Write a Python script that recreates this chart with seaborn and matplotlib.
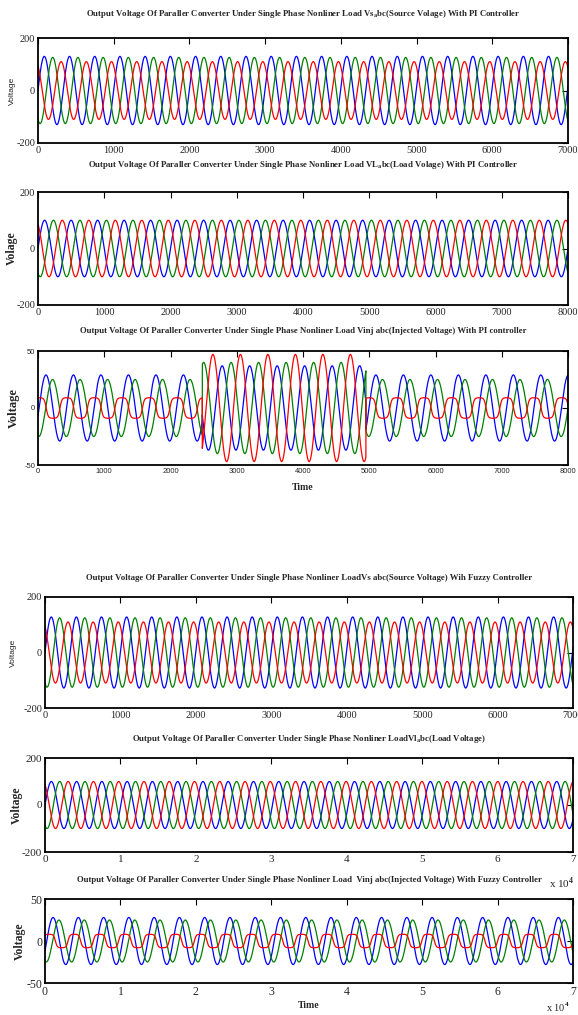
import numpy as np
import pandas as pd
import matplotlib
matplotlib.use("Agg")
import matplotlib.pyplot as plt
import seaborn as sns

# ---- values ----
phase_names = ["a", "b", "c"]
phase_colors = ["#0000ff", "#008000", "#ff0000"]

# 1) source voltage, PI controller
vs_pi_edges = [0, 7000]
vs_pi_period = 333
vs_pi_amp = [[130, 126, 110]]
vs_pi_peak = [[83, 194, 305]]
vs_pi_flat = [[0, 0, 0]]

# 2) load voltage, PI controller
vl_pi_edges = [0, 8000]
vl_pi_period = 400
vl_pi_amp = [[100, 100, 100]]
vl_pi_peak = [[100, 233, 367]]
vl_pi_flat = [[0, 0, 0]]

# 3) injected voltage, PI controller (compensation between 2480 and 4950)
vinj_pi_edges = [0, 2480, 4950, 8000]
vinj_pi_period = 415
vinj_pi_amp = [[29, 25, 9], [37, 40, 47], [29, 25, 9]]
vinj_pi_peak = [[120, 220, 20], [2780, 2500, 2640], [120, 220, 20]]
vinj_pi_flat = [[0, 0, 2.2], [0, 0, 0], [0, 0, 2.2]]

# 4) source voltage, fuzzy controller
vs_fz_edges = [0, 7000]
vs_fz_period = 333
vs_fz_amp = [[128, 125, 110]]
vs_fz_peak = [[83, 194, 305]]
vs_fz_flat = [[0, 0, 0]]

# 5) load voltage, fuzzy controller
vl_fz_edges = [0, 70000]
vl_fz_period = 3350
vl_fz_amp = [[100, 100, 100]]
vl_fz_peak = [[840, 1950, 3070]]
vl_fz_flat = [[0, 0, 0]]

# 6) injected voltage, fuzzy controller
vinj_fz_edges = [0, 70000]
vinj_fz_period = 3350
vinj_fz_amp = [[28, 25, 8]]
vinj_fz_peak = [[1070, 1850, 540]]
vinj_fz_flat = [[0, 0, 2.2]]

titles = [
    r"Output Voltage Of Paraller Converter Under Single Phase Nonliner Load Vs$_{\mathregular{a}}$bc(Source Volage) With PI Controller",
    r"Output Voltage Of Paraller Converter Under Single Phase Nonliner Load VL$_{\mathregular{a}}$bc(Load Volage) With PI Controller",
    "Output Voltage Of Paraller Converter Under Single Phase Nonliner Load Vinj abc(Injected Voltage) With PI controller",
    "Output Voltage Of Paraller Converter Under Single Phase Nonliner LoadVs abc(Source Voltage) Wih Fuzzy Controller",
    r"Output Voltage Of Paraller Converter Under Single Phase Nonliner LoadVl$_{\mathregular{a}}$bc(Load Voltage)",
    "Output Voltage Of Paraller Converter Under Single Phase Nonliner Load  Vinj abc(Injected Voltage) With Fuzzy Controller",
]
ylabels = ["Voltage", "Volage", "Voltage", "Voltage", "Voltage", "Voltage"]


def make_frame(edges, period, amps, peaks, flats, step):
    t = np.arange(edges[0], edges[-1] + step, step, dtype=float)
    seg = np.clip(np.searchsorted(edges, t, side="right") - 1, 0, len(edges) - 2)
    parts = []
    for k, name in enumerate(phase_names):
        a = np.array([s[k] for s in amps])[seg]
        p = np.array([s[k] for s in peaks])[seg]
        f = np.array([s[k] for s in flats])[seg]
        c = np.cos(2 * np.pi * (t - p) / period)
        shaped = np.where(f > 0, np.tanh(f * c) / np.tanh(np.maximum(f, 1e-6)), c)
        parts.append(pd.DataFrame({"t": t, "v": a * shaped, "phase": name}))
    return pd.concat(parts, ignore_index=True)


frames = [
    make_frame(vs_pi_edges, vs_pi_period, vs_pi_amp, vs_pi_peak, vs_pi_flat, 1),
    make_frame(vl_pi_edges, vl_pi_period, vl_pi_amp, vl_pi_peak, vl_pi_flat, 1),
    make_frame(vinj_pi_edges, vinj_pi_period, vinj_pi_amp, vinj_pi_peak, vinj_pi_flat, 1),
    make_frame(vs_fz_edges, vs_fz_period, vs_fz_amp, vs_fz_peak, vs_fz_flat, 1),
    make_frame(vl_fz_edges, vl_fz_period, vl_fz_amp, vl_fz_peak, vl_fz_flat, 10),
    make_frame(vinj_fz_edges, vinj_fz_period, vinj_fz_amp, vinj_fz_peak, vinj_fz_flat, 10),
]

sns.set_theme(style="white")
plt.rcParams["font.family"] = ["Liberation Serif", "DejaVu Serif"]
plt.rcParams["mathtext.fontset"] = "custom"
plt.rcParams["mathtext.rm"] = "Liberation Serif:bold"
plt.rcParams["axes.unicode_minus"] = False

W, H = 578, 1015
fig = plt.figure(figsize=(W / 100, H / 100), dpi=100)

# pixel boxes: left, right, top, bottom
boxes = [(38, 568, 38, 143), (38, 568, 192, 305), (38, 568, 351, 465),
         (45, 573, 597, 708), (45, 573, 758, 852), (45, 573, 899, 983)]
title_y = [14, 165, 331, 578, 739, 880]
ylab_x = [12, 12, 14, 13, 17, 20]
ylab_style = [("Liberation Sans", "normal", 6), ("Liberation Serif", "bold", 8.5),
              ("Liberation Serif", "bold", 9), ("Liberation Sans", "normal", 6),
              ("Liberation Serif", "bold", 8.5), ("Liberation Serif", "bold", 8.5)]
tick_style = [("Liberation Serif", 7.5), ("Liberation Serif", 7.5), ("Liberation Sans", 5.5),
              ("Liberation Serif", 7.5), ("Liberation Serif", 8), ("Liberation Serif", 8.5)]
ylims = [200, 200, 50, 200, 200, 50]

for i, df in enumerate(frames):
    l, r, t, b = boxes[i]
    ax = fig.add_axes([l / W, 1 - b / H, (r - l) / W, (b - t) / H])
    sns.lineplot(data=df, x="t", y="v", hue="phase", palette=phase_colors,
                 estimator=None, sort=False, legend=False, linewidth=0.9, ax=ax)
    xmax = df["t"].max()
    ax.set_xlim(0, xmax)
    lim = ylims[i]
    ax.set_ylim(-lim, lim)
    ax.set_yticks([-lim, 0, lim])
    ax.set_yticklabels([f"-{lim}", "0", f"{lim}"])
    if xmax > 10000:
        xt = np.arange(0, 70001, 10000)
        ax.set_xticks(xt)
        ax.set_xticklabels([str(int(v // 10000)) for v in xt])
    else:
        xt = np.arange(0, xmax + 1, 1000)
        ax.set_xticks(xt)
        ax.set_xticklabels([str(int(v)) for v in xt])
    ax.set_xlabel("")
    ax.set_ylabel("")
    fam, size = tick_style[i]
    ax.tick_params(direction="in", top=True, right=True, length=4, width=0.8,
                   color="black", pad=2, labelsize=size)
    for lab in ax.get_xticklabels() + ax.get_yticklabels():
        lab.set_family(fam)
    for sp in ax.spines.values():
        sp.set_color("black")
        sp.set_linewidth(1.3)
    cx = (l + r) / 2 / W
    fig.text(cx, 1 - title_y[i] / H, titles[i], ha="center", va="center",
             fontsize=6.3, fontweight="bold")
    f, w, s = ylab_style[i]
    fig.text(ylab_x[i] / W, 1 - (t + b) / 2 / H, ylabels[i], rotation=90,
             ha="center", va="center", family=f, fontweight=w, fontsize=s)

fig.text(303 / W, 1 - 488 / H, "Time", ha="center", va="center", fontsize=7, fontweight="bold")
fig.text(309 / W, 1 - 1005 / H, "Time", ha="center", va="center", fontsize=7, fontweight="bold")
fig.text(562 / W, 1 - 883 / H, r"x 10$^{4}$", ha="center", va="center", fontsize=8)
fig.text(558 / W, 1 - 1007 / H, r"x 10$^{4}$", ha="center", va="center", fontsize=7.5)

fig.savefig("out.png", dpi=100, facecolor="white")
